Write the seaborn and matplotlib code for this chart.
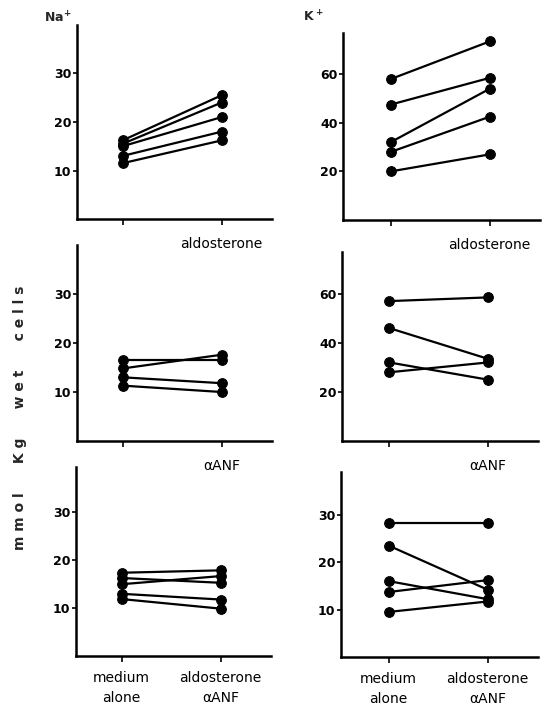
import matplotlib
matplotlib.use("Agg")
import matplotlib.pyplot as plt
import seaborn as sns
import pandas as pd

sns.set_theme(style="ticks")
plt.rcParams['font.family'] = ['DejaVu Sans']
plt.rcParams['mathtext.fontset'] = 'dejavusans'

conditions = ["medium alone", "treated"]

na_ald_medium = [16.2, 15.5, 15.0, 13.0, 11.5]
na_ald_treated = [25.5, 24.0, 21.0, 18.0, 16.2]
k_ald_medium = [58.0, 47.5, 32.0, 28.0, 20.0]
k_ald_treated = [73.5, 58.5, 54.0, 42.5, 27.0]

na_anf_medium = [16.5, 14.8, 13.0, 11.3]
na_anf_treated = [16.5, 17.6, 11.8, 10.0]
k_anf_medium = [57.0, 46.0, 32.0, 28.0]
k_anf_treated = [58.5, 33.5, 25.0, 32.0]

na_both_medium = [17.4, 16.3, 15.0, 13.0, 11.9]
na_both_treated = [17.9, 15.3, 16.7, 11.8, 9.9]
k_both_medium = [28.3, 23.5, 16.0, 13.7, 9.5]
k_both_treated = [28.3, 14.2, 12.2, 16.2, 11.7]

row_labels = ["aldosterone", "\u03b1ANF", None]
bottom_ticklabels = ["medium\nalone", "aldosterone\n\u03b1ANF"]
na_ticks = [10, 20, 30]
k_ticks_big = [20, 40, 60]
k_ticks_small = [10, 20, 30]

W, H = 546, 705
fig = plt.figure(figsize=(W / 100, H / 100), dpi=100)


def make_ax(x0, x1, y0, y1):
    # pixel coords (top-left origin) -> figure fraction
    return fig.add_axes([x0 / W, 1 - y0 / H, (x1 - x0) / W, (y0 - y1) / H])


panels = [
    # (x0, x1, y_zero_px, y_top_px, ylim_top, xlim_left, medium, treated, yticks, label)
    (77, 272, 219, 25, 40, -0.46, na_ald_medium, na_ald_treated, na_ticks, row_labels[0]),
    (343, 540, 220, 33, 77, -0.48, k_ald_medium, k_ald_treated, k_ticks_big, row_labels[0]),
    (77, 272, 441, 245, 40, -0.46, na_anf_medium, na_anf_treated, na_ticks, row_labels[1]),
    (342, 538, 441, 252, 77, -0.48, k_anf_medium, k_anf_treated, k_ticks_big, row_labels[1]),
    (76, 271, 656, 467, 39.5, -0.46, na_both_medium, na_both_treated, na_ticks, None),
    (341, 538, 657, 472, 39, -0.48, k_both_medium, k_both_treated, k_ticks_small, None),
]

for i, (x0, x1, yz, yt, ytop, xl, med, trt, yt_ticks, lab) in enumerate(panels):
    ax = make_ax(x0, x1, yz, yt)
    n = len(med)
    df = pd.DataFrame({
        "subject": list(range(n)) * 2,
        "x": [0] * n + [1] * n,
        "value": list(med) + list(trt),
    })
    sns.lineplot(data=df, x="x", y="value", units="subject", estimator=None,
                 color="black", linewidth=1.6, marker="o", markersize=7,
                 markeredgecolor="black", markerfacecolor="black", ax=ax,
                 legend=False)
    ax.set_xlim(xl, 1.51)
    ax.set_ylim(0, ytop)
    ax.set_xlabel("")
    ax.set_ylabel("")
    sns.despine(ax=ax)
    for s in ["left", "bottom"]:
        ax.spines[s].set_linewidth(1.8)
        ax.spines[s].set_color("black")
    ax.set_yticks(yt_ticks)
    ax.set_yticklabels([str(t) for t in yt_ticks], fontweight="bold", fontsize=9)
    ax.tick_params(axis="y", direction="out", length=3, width=1.2, pad=1, colors="black")
    ax.tick_params(axis="x", direction="out", length=4, width=1.2, pad=9, colors="black")
    ax.set_xticks([0, 1])
    if lab is None:
        ax.set_xticklabels(bottom_ticklabels, fontsize=10, linespacing=1.5)
        ax.tick_params(axis="x", pad=7)
    else:
        ax.set_xticklabels(["", lab], fontsize=10)
    ax.set_facecolor("none")

fig.text(58 / W, 1 - 18 / H, r"$\mathbf{Na^{+}}$", fontsize=9, ha="center", va="center")
fig.text(314 / W, 1 - 17 / H, r"$\mathbf{K^{\,+}}$", fontsize=9, ha="center", va="center")
fig.text(20 / W, 1 - 418 / H, "m m o l      K g      w e t      c e l l s",
         rotation=90, fontsize=10, fontweight="bold", ha="center", va="center")

fig.savefig("out.png", dpi=100)
